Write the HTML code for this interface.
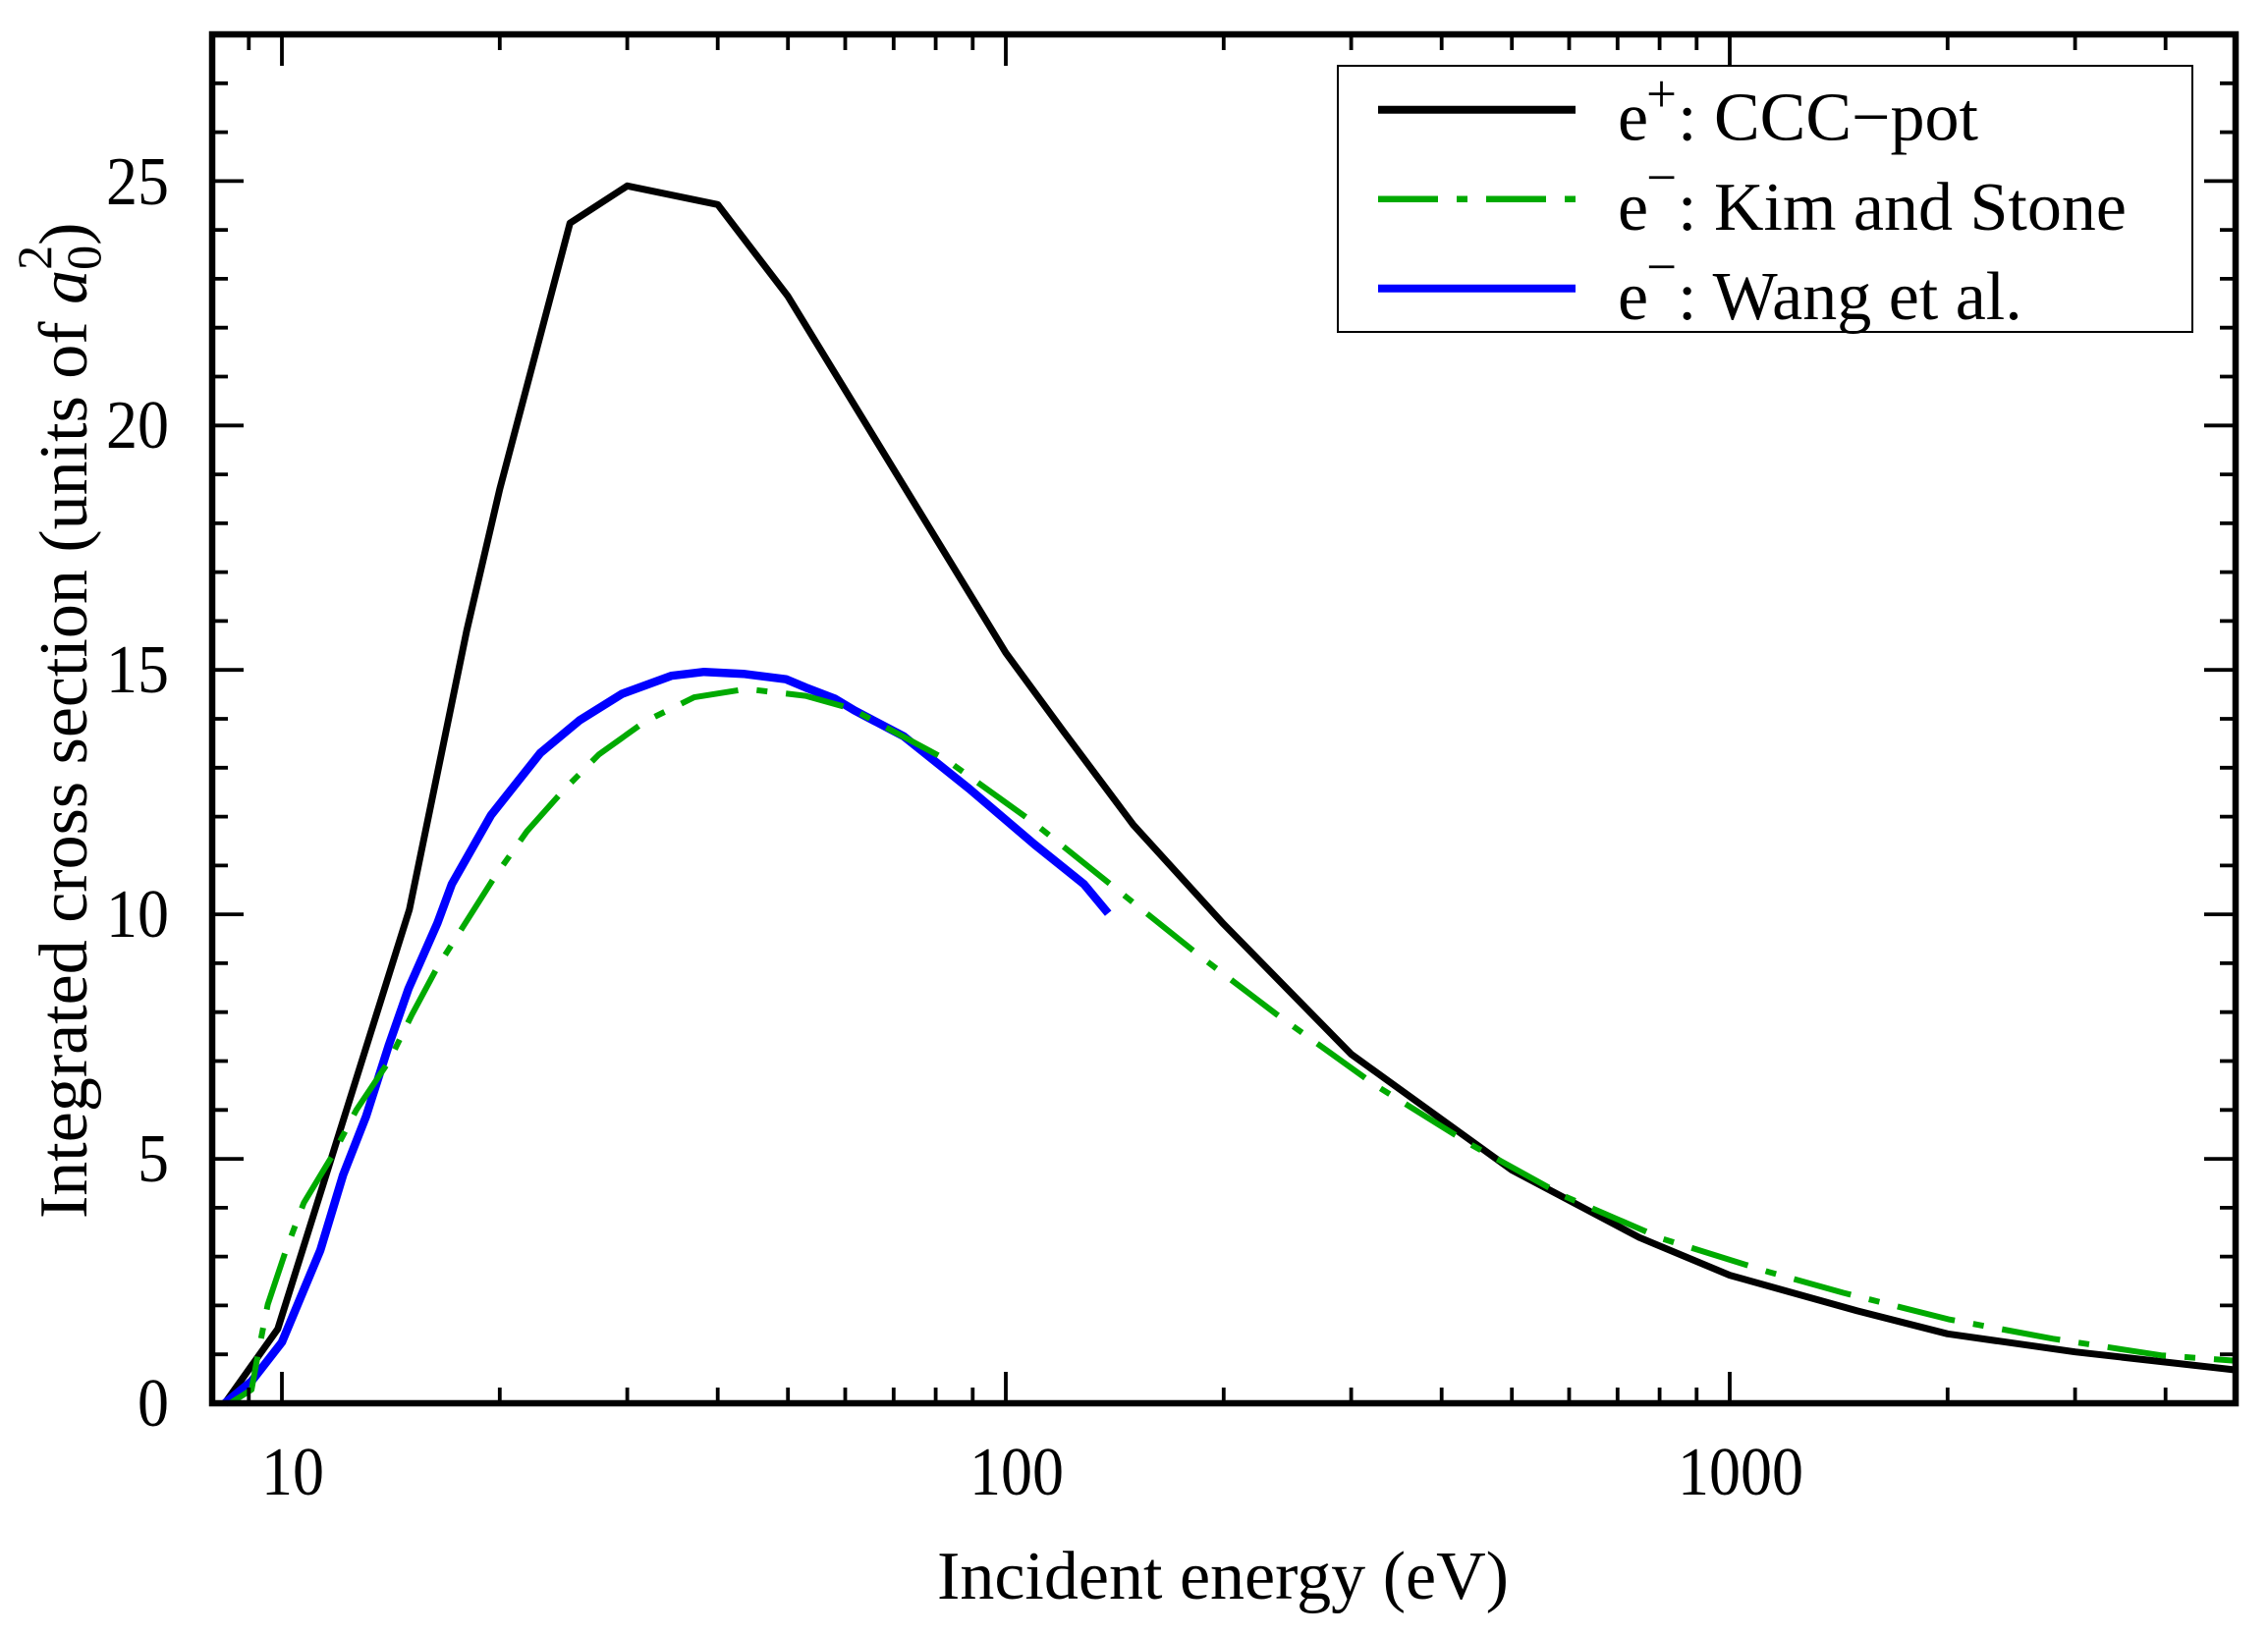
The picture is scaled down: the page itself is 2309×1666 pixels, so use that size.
<!DOCTYPE html>
<html>
<head>
<meta charset="utf-8">
<style>
  html, body { margin: 0; padding: 0; background: #fff; }
  svg { display: block; }
  text { font-family: "Liberation Serif", "DejaVu Serif", serif; fill: #000; }
</style>
</head>
<body>
<svg xmlns="http://www.w3.org/2000/svg" width="2309" height="1666" viewBox="0 0 2309 1666">
  <rect x="0" y="0" width="2309" height="1666" fill="#fff"/>

  <!-- data series -->
  <g fill="none" stroke-linejoin="round">
    <!-- black: CCC-pot -->
    <polyline stroke="#000" stroke-width="7"
      points="228.9,1429 282.8,1353.3 416.8,926.2 475.1,642.4 508.8,498.0 580.3,227.2 638.6,189.3 730.7,208.3 802.2,301.8 1024,664.8 1082.4,744.4 1153.8,840.0 1245.8,941.1 1375.6,1073.5 1539.2,1191.5 1669.0,1260.2 1761,1298.6 1890.8,1334.9 1982.8,1358.3 2112.6,1376.7 2276.2,1395.1"/>
    <!-- blue: Wang et al -->
    <polyline stroke="#0000ff" stroke-width="8.5"
      points="228.9,1429 256,1406.7 287,1366.8 326.1,1273.2 349.3,1196.5 372.7,1136.8 396.1,1063.6 415.9,1006.8 445.3,940.1 460,900.3 499.9,830.1 550.1,766.8 590.1,733.5 633.2,706.6 683.4,688.2 716.8,684.2 756.8,686.2 800.2,691.7 820.2,700.1 850.2,711.6 870,723.5 920.2,749.9 986.7,803.2 1053.3,860.0 1103.5,900.3 1128.2,930.1"/>
    <!-- green: Kim and Stone -->
    <polyline stroke="#00aa00" stroke-width="6" stroke-dasharray="60 19 11 19"
      points="234.2,1429 256.1,1415.1 262.8,1378.2 272.6,1328.4 291.1,1273.2 309.3,1224.9 339.4,1175.1 362.8,1130.3 396.1,1080.5 419.4,1033.2 445.3,984.9 503.4,893.3 536.5,846.5 573.3,805.2 609.7,768.3 656.3,735.0 706.7,710.1 759.8,701.6 820.2,708.6 866.3,721.5 962.8,773.3 1053.3,838.5 1140.1,908.2 1223.5,975.0 1300.0,1033.2 1399.9,1104.9 1496.6,1165.1 1593.2,1218.4 1693.2,1261.7 1800.1,1295.1 1876.6,1316.5 1983.4,1343.4 2090.1,1363.3 2200.2,1380.2 2276.2,1385.7"/>
  </g>

  <!-- ticks -->
  <g stroke="#000" stroke-width="3.8" fill="none">
    <path d="
      M216 1379.2h16 M216 1329.4h16 M216 1279.6h16 M216 1229.9h16 M216 1180.1h32
      M216 1130.3h16 M216 1080.5h16 M216 1030.7h16 M216 980.9h16 M216 931.1h32
      M216 881.4h16 M216 831.6h16 M216 781.8h16 M216 732.0h16 M216 682.2h32
      M216 632.4h16 M216 582.6h16 M216 532.9h16 M216 483.1h16 M216 433.3h32
      M216 383.5h16 M216 333.7h16 M216 283.9h16 M216 234.1h16 M216 184.4h32
      M216 134.6h16 M216 84.8h16
      M2276 1379.2h-16 M2276 1329.4h-16 M2276 1279.6h-16 M2276 1229.9h-16 M2276 1180.1h-32
      M2276 1130.3h-16 M2276 1080.5h-16 M2276 1030.7h-16 M2276 980.9h-16 M2276 931.1h-32
      M2276 881.4h-16 M2276 831.6h-16 M2276 781.8h-16 M2276 732.0h-16 M2276 682.2h-32
      M2276 632.4h-16 M2276 582.6h-16 M2276 532.9h-16 M2276 483.1h-16 M2276 433.3h-32
      M2276 383.5h-16 M2276 333.7h-16 M2276 283.9h-16 M2276 234.1h-16 M2276 184.4h-32
      M2276 134.6h-16 M2276 84.8h-16
    "/>
    <path d="
      M253.3 1429v-16 M287 1429v-32 M508.8 1429v-16 M638.6 1429v-16 M730.7 1429v-16
      M802.2 1429v-16 M860.5 1429v-16 M909.8 1429v-16 M952.6 1429v-16 M990.3 1429v-16
      M1024 1429v-32 M1245.8 1429v-16 M1375.6 1429v-16 M1467.7 1429v-16 M1539.2 1429v-16
      M1597.5 1429v-16 M1646.8 1429v-16 M1689.6 1429v-16 M1727.3 1429v-16 M1761 1429v-32
      M1982.8 1429v-16 M2112.6 1429v-16 M2204.7 1429v-16
      M253.3 35v16 M287 35v32 M508.8 35v16 M638.6 35v16 M730.7 35v16
      M802.2 35v16 M860.5 35v16 M909.8 35v16 M952.6 35v16 M990.3 35v16
      M1024 35v32 M1245.8 35v16 M1375.6 35v16 M1467.7 35v16 M1539.2 35v16
      M1597.5 35v16 M1646.8 35v16 M1689.6 35v16 M1727.3 35v16 M1761 35v32
      M1982.8 35v16 M2112.6 35v16 M2204.7 35v16
    "/>
  </g>

  <!-- frame -->
  <rect x="216" y="35" width="2060" height="1394" fill="none" stroke="#000" stroke-width="6.5"/>

  <!-- y tick labels -->
  <g font-size="70" text-anchor="end">
    <text x="172" y="1452" textLength="32" lengthAdjust="spacingAndGlyphs">0</text>
    <text x="172" y="1203" textLength="32" lengthAdjust="spacingAndGlyphs">5</text>
    <text x="172" y="954" textLength="64" lengthAdjust="spacingAndGlyphs">10</text>
    <text x="172" y="705" textLength="64" lengthAdjust="spacingAndGlyphs">15</text>
    <text x="172" y="456" textLength="64" lengthAdjust="spacingAndGlyphs">20</text>
    <text x="172" y="208" textLength="64" lengthAdjust="spacingAndGlyphs">25</text>
  </g>

  <!-- x tick labels -->
  <g font-size="70">
    <text x="266" y="1522" textLength="64" lengthAdjust="spacingAndGlyphs">10</text>
    <text x="987" y="1522" textLength="96" lengthAdjust="spacingAndGlyphs">100</text>
    <text x="1708" y="1522" textLength="128" lengthAdjust="spacingAndGlyphs">1000</text>
  </g>

  <!-- axis titles -->
  <text x="954" y="1628" font-size="70" textLength="582" lengthAdjust="spacingAndGlyphs">Incident energy (eV)</text>
  <text transform="translate(88,1241) rotate(-90)" font-size="70">Integrated cross section (units of <tspan font-style="italic">a</tspan><tspan font-size="50" dy="14">0</tspan><tspan font-size="50" dx="-25" dy="-50">2</tspan><tspan dy="36">)</tspan></text>

  <!-- legend -->
  <rect x="1362" y="67" width="870" height="271" fill="#fff" stroke="#000" stroke-width="2"/>
  <line x1="1403" y1="111.7" x2="1604" y2="111.7" stroke="#000" stroke-width="8"/>
  <line x1="1403" y1="202.7" x2="1604" y2="202.7" stroke="#00aa00" stroke-width="6.5" stroke-dasharray="61 19 11 19"/>
  <line x1="1403" y1="293.7" x2="1604" y2="293.7" stroke="#0000ff" stroke-width="8"/>

  <g font-size="70">
    <text x="1647" y="142.7">e</text>
    <text x="1676" y="114" font-size="55">+</text>
    <text x="1708" y="142.7">: CCC&#8722;pot</text>

    <text x="1647" y="234">e</text>
    <text x="1676" y="199" font-size="55">&#8722;</text>
    <text x="1708" y="234">: Kim and Stone</text>

    <text x="1647" y="325">e</text>
    <text x="1676" y="290" font-size="55">&#8722;</text>
    <text x="1708" y="325">: Wang et al.</text>
  </g>
</svg>
</body>
</html>
